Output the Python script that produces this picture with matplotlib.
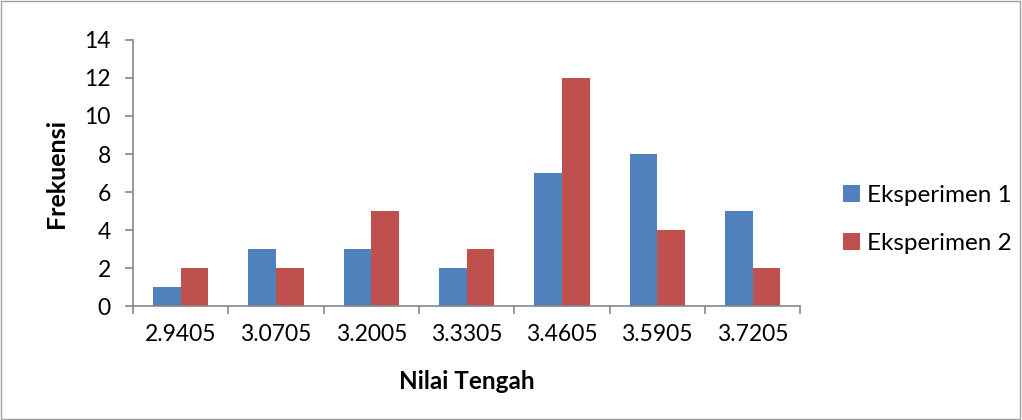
import numpy as np
import matplotlib
matplotlib.use('Agg')
import matplotlib.pyplot as plt
from matplotlib.patches import Rectangle

categories = ["2.9405", "3.0705", "3.2005", "3.3305", "3.4605", "3.5905", "3.7205"]
eksperimen1 = [1, 3, 3, 2, 7, 8, 5]
eksperimen2 = [2, 2, 5, 3, 12, 4, 2]

plt.rcParams['font.family'] = ['Lato', 'DejaVu Sans']

fig = plt.figure(figsize=(10.22, 4.2), dpi=100)
ax = fig.add_axes([0.130, 0.271, 0.653, 0.634])

x = np.arange(len(categories))
w = 0.29
ax.bar(x - w / 2, eksperimen1, w, color='#4F81BD', label='Eksperimen 1')
ax.bar(x + w / 2, eksperimen2, w, color='#C0504D', label='Eksperimen 2')

ax.set_xlim(-0.5, len(categories) - 0.5)
ax.set_ylim(0, 14)
ax.set_yticks(range(0, 15, 2))
ax.set_xticks(x)
ax.set_xticklabels(categories)
ax.set_xticks(np.arange(-0.5, len(categories)), minor=True)
ax.tick_params(axis='x', which='major', length=0, pad=13, labelsize=16.5)
ax.tick_params(axis='x', which='minor', length=6, color='#868686', width=1.2)
ax.tick_params(axis='y', length=6, color='#868686', width=1.2, labelsize=16.5, pad=10)

for s in ['top', 'right']:
    ax.spines[s].set_visible(False)
for s in ['left', 'bottom']:
    ax.spines[s].set_color('#868686')
    ax.spines[s].set_linewidth(1.2)

ax.set_xlabel('Nilai Tengah', fontsize=17.5, fontweight='bold')
ax.set_ylabel('Frekuensi', fontsize=18, fontweight='bold')
ax.xaxis.set_label_coords(0.5, -0.238)
ax.yaxis.set_label_coords(-0.097, 0.5)

ax.legend(loc='center left', bbox_to_anchor=(1.031, 0.325), frameon=False, fontsize=17.5,
          handlelength=0.7, handleheight=0.7, handletextpad=0.3, labelspacing=1.1)

fig.patches.append(Rectangle((0.001, 0.002), 0.997, 0.995, transform=fig.transFigure,
                             fill=False, edgecolor='#A0A0A0', linewidth=1))

fig.savefig('out.png', dpi=100)
